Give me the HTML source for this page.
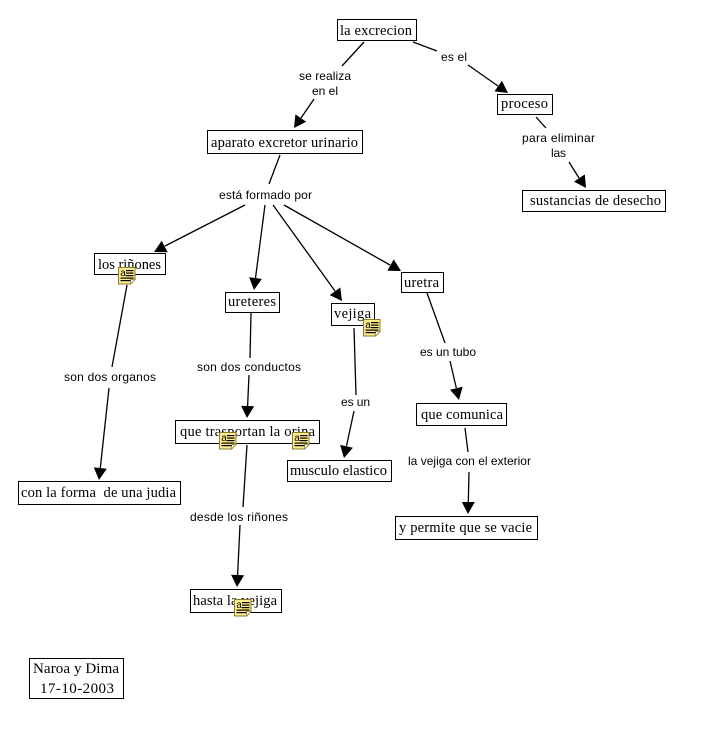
<!DOCTYPE html>
<html><head><meta charset="utf-8">
<style>
html,body{margin:0;padding:0;background:#fff;width:707px;height:739px;overflow:hidden}
svg{display:block}
.n{font-family:"Liberation Serif",serif;font-size:14.5px;fill:#000;white-space:pre}
.f{font-size:15px}
.l{font-family:"Liberation Sans",sans-serif;font-size:12px;fill:#000}
.i{font-family:"Liberation Sans",sans-serif;font-size:10px;fill:#000}
rect.b{fill:#fff;stroke:#000;stroke-width:1}
line{stroke:#000;stroke-width:1.3}
polygon.a{fill:#000}
</style></head><body>
<svg width="707" height="739" viewBox="0 0 707 739" xmlns="http://www.w3.org/2000/svg">
<defs>
<g id="note">
<path d="M0.5 0.5H17V12.5L12.5 17H0.5Z" fill="#fcec8c" stroke="#8a7a28" stroke-width="1"/>
<path d="M17 12.5L12.5 17V12.5Z" fill="#fff" stroke="#8a7a28" stroke-width=".7"/>
<text class="i" x="2.2" y="9">a</text>
<rect x="8" y="3" width="7.5" height="1.2" fill="#000"/>
<rect x="8" y="5.5" width="7.5" height="1.2" fill="#000"/>
<rect x="8" y="8" width="7.5" height="1.2" fill="#000"/>
<rect x="2.5" y="10.5" width="13" height="1.2" fill="#000"/>
<rect x="2.5" y="13" width="10" height="1.2" fill="#000"/>
</g>
</defs>

<line x1="364" y1="42" x2="342" y2="66"/>
<line x1="314" y1="99" x2="301" y2="118"/>
<polygon class="a" points="294,128 295.4,114.4 306.2,121.8"/>
<line x1="413" y1="42" x2="437" y2="51"/>
<line x1="468" y1="65" x2="498" y2="86"/>
<polygon class="a" points="508,93 494.5,91.4 501.9,80.8"/>
<line x1="536" y1="117" x2="546" y2="128"/>
<line x1="569" y1="162" x2="579" y2="178"/>
<polygon class="a" points="586,188 574,181.6 584.8,174.4"/>
<line x1="280" y1="155" x2="269" y2="184"/>
<line x1="245" y1="205" x2="165" y2="246"/>
<polygon class="a" points="154,252 161.7,240.7 167.7,252.3"/>
<line x1="265" y1="205" x2="255.5" y2="278"/>
<polygon class="a" points="254,290 249.1,277.3 261.9,278.9"/>
<line x1="273" y1="205" x2="335" y2="291"/>
<polygon class="a" points="342,301 329.7,295.1 340.3,287.5"/>
<line x1="284" y1="205" x2="390" y2="265"/>
<polygon class="a" points="401,271 387.3,270.8 393.7,259.4"/>
<line x1="127" y1="285" x2="112" y2="367"/>
<line x1="109" y1="388" x2="100.3" y2="468"/>
<polygon class="a" points="99,480 93.8,467.4 106.8,468.8"/>
<line x1="251" y1="313" x2="250" y2="358"/>
<line x1="249" y1="375" x2="247.6" y2="406"/>
<polygon class="a" points="247,418 241.1,405.7 254.1,406.3"/>
<line x1="354" y1="328" x2="356" y2="395"/>
<line x1="354" y1="411" x2="346.5" y2="446"/>
<polygon class="a" points="344,458 340.1,444.9 352.9,447.7"/>
<line x1="427" y1="293" x2="445" y2="343"/>
<line x1="450" y1="361" x2="456.3" y2="388"/>
<polygon class="a" points="459,400 450,389.8 462.6,386.8"/>
<line x1="465" y1="428" x2="468" y2="452"/>
<line x1="469" y1="472" x2="468.3" y2="502"/>
<polygon class="a" points="468,514 461.8,502 474.8,502"/>
<line x1="247" y1="445" x2="243" y2="507"/>
<line x1="240" y1="525" x2="237.6" y2="575"/>
<polygon class="a" points="237,587 231.1,574.7 244.1,575.3"/>

<rect class="b" x="337.5" y="19.5" width="79" height="21"/>
<text class="n" x="340" y="35" textLength="72" lengthAdjust="spacing">la excrecion</text>
<rect class="b" x="497.5" y="94.5" width="55" height="20"/>
<text class="n" x="501" y="108" textLength="47" lengthAdjust="spacing">proceso</text>
<rect class="b" x="207.5" y="130.5" width="155" height="23"/>
<text class="n" x="211" y="147" textLength="147" lengthAdjust="spacing">aparato excretor urinario</text>
<rect class="b" x="522.5" y="190.5" width="143" height="21"/>
<text class="n" x="530" y="205" textLength="131" lengthAdjust="spacing">sustancias de desecho</text>
<rect class="b" x="94.5" y="253.5" width="71" height="21"/>
<text class="n" x="98" y="269" textLength="63" lengthAdjust="spacing">los riñones</text>
<rect class="b" x="225.5" y="292.5" width="54" height="20"/>
<text class="n" x="228" y="306" textLength="48" lengthAdjust="spacing">ureteres</text>
<rect class="b" x="331.5" y="303.5" width="43" height="22"/>
<text class="n" x="334" y="318" textLength="37" lengthAdjust="spacing">vejiga</text>
<rect class="b" x="401.5" y="272.5" width="42" height="20"/>
<text class="n" x="404" y="287" textLength="35" lengthAdjust="spacing">uretra</text>
<rect class="b" x="416.5" y="403.5" width="90" height="22"/>
<text class="n" x="421" y="419" textLength="82" lengthAdjust="spacing">que comunica</text>
<rect class="b" x="175.5" y="420.5" width="144" height="23"/>
<text class="n" x="180" y="436" textLength="135" lengthAdjust="spacing">que trasportan la orina</text>
<rect class="b" x="287.5" y="460.5" width="104" height="21"/>
<text class="n" x="290" y="475" textLength="97" lengthAdjust="spacing">musculo elastico</text>
<rect class="b" x="18.5" y="481.5" width="162" height="23"/>
<text class="n" x="21" y="497" textLength="155" lengthAdjust="spacing">con la forma  de una judia</text>
<rect class="b" x="395.5" y="516.5" width="142" height="23"/>
<text class="n" x="399" y="532" textLength="133" lengthAdjust="spacing">y permite que se vacie</text>
<rect class="b" x="190.5" y="589.5" width="91" height="23"/>
<text class="n" x="193" y="605" textLength="84" lengthAdjust="spacing">hasta la vejiga</text>
<rect class="b" x="29.5" y="658.5" width="94" height="40"/>
<text class="n f" x="33" y="673" textLength="86" lengthAdjust="spacing">Naroa y Dima</text>
<text class="n f" x="40" y="693" textLength="74" lengthAdjust="spacing">17-10-2003</text>

<text class="l" x="299" y="80" textLength="52" lengthAdjust="spacing">se realiza</text>
<text class="l" x="312" y="95" textLength="26" lengthAdjust="spacing">en el</text>
<text class="l" x="441" y="61" textLength="26" lengthAdjust="spacing">es el</text>
<text class="l" x="522" y="142" textLength="73" lengthAdjust="spacing">para eliminar</text>
<text class="l" x="551" y="157" textLength="15" lengthAdjust="spacing">las</text>
<text class="l" x="219" y="199" textLength="93" lengthAdjust="spacing">está formado por</text>
<text class="l" x="64" y="381" textLength="92" lengthAdjust="spacing">son dos organos</text>
<text class="l" x="197" y="371" textLength="104" lengthAdjust="spacing">son dos conductos</text>
<text class="l" x="341" y="406" textLength="29" lengthAdjust="spacing">es un</text>
<text class="l" x="420" y="356" textLength="56" lengthAdjust="spacing">es un tubo</text>
<text class="l" x="408" y="465" textLength="123" lengthAdjust="spacing">la vejiga con el exterior</text>
<text class="l" x="190" y="521" textLength="98" lengthAdjust="spacing">desde los riñones</text>

<use href="#note" x="118" y="267"/>
<use href="#note" x="363" y="319"/>
<use href="#note" x="219" y="432"/>
<use href="#note" x="292" y="432"/>
<use href="#note" x="234" y="599"/>
</svg>
</body></html>
